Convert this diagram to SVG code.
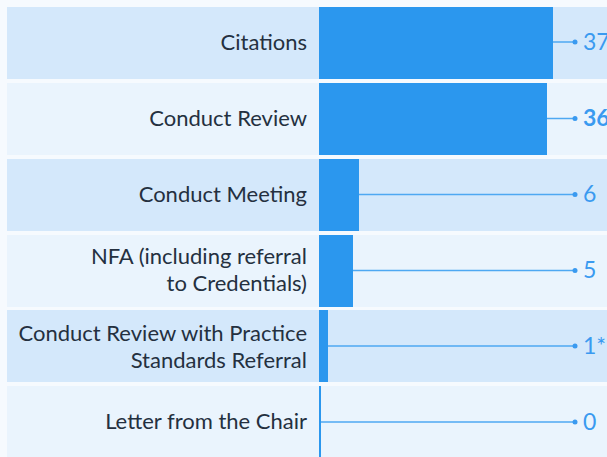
<svg xmlns="http://www.w3.org/2000/svg" width="607" height="457" viewBox="0 0 607 457">
<style>
.bg{fill:#f6fafe}
.odd{fill:#d4e8fb}
.even{fill:#eaf4fd}
.bar{fill:#2b97ee}
.lbl{font-family:Lato,"Noto Sans",sans-serif;font-size:22px;fill:#243040;text-anchor:end}
.val{font-family:Lato,"Noto Sans",sans-serif;font-size:23px;fill:#3a9af0}
.ln{stroke:#4ea8f2;stroke-width:1.5;fill:none}
.dot{fill:#3a9af0}
</style>
<rect class="bg" x="0" y="0" width="607" height="457"/>
<g id="row1">
<rect class="odd" x="7" y="7" width="600" height="72"/>
<rect class="bar" x="319" y="7" width="234" height="72"/>
<text class="lbl" x="307" y="50">Citations</text>
</g>
<g id="row2">
<rect class="even" x="7" y="83" width="600" height="72"/>
<rect class="bar" x="319" y="83" width="228" height="72"/>
<text class="lbl" x="307" y="126">Conduct Review</text>
</g>
<g id="row3">
<rect class="odd" x="7" y="159" width="600" height="72"/>
<rect class="bar" x="319" y="159" width="40" height="72"/>
<text class="lbl" x="307" y="202">Conduct Meeting</text>
</g>
<g id="row4">
<rect class="even" x="7" y="235" width="600" height="72"/>
<rect class="bar" x="319" y="235" width="34" height="72"/>
<text class="lbl" x="307" y="264">NFA (including referral</text>
<text class="lbl" x="307" y="291">to Credentials)</text>
</g>
<g id="row5">
<rect class="odd" x="7" y="310" width="600" height="72"/>
<rect class="bar" x="319" y="310" width="9" height="72"/>
<text class="lbl" x="307" y="341">Conduct Review with Practice</text>
<text class="lbl" x="307" y="368">Standards Referral</text>
</g>
<g id="row6">
<rect class="even" x="7" y="386" width="600" height="71"/>
<rect class="bar" x="319" y="386" width="2" height="71"/>
<text class="lbl" x="307" y="429">Letter from the Chair</text>
</g>
<g id="connectors">
<line class="ln" x1="553" y1="42" x2="575" y2="42"/>
<circle class="dot" cx="575" cy="42" r="2.5"/>
<line class="ln" x1="547" y1="118.5" x2="575" y2="118.5"/>
<circle class="dot" cx="575" cy="118.5" r="2.5"/>
<line class="ln" x1="359" y1="194.5" x2="575" y2="194.5"/>
<circle class="dot" cx="575" cy="194.5" r="2.5"/>
<line class="ln" x1="353" y1="270.5" x2="575" y2="270.5"/>
<circle class="dot" cx="575" cy="270.5" r="2.5"/>
<line class="ln" x1="328" y1="346" x2="575" y2="346"/>
<circle class="dot" cx="575" cy="346" r="2.5"/>
<line class="ln" x1="321" y1="422" x2="575" y2="422"/>
<circle class="dot" cx="575" cy="422" r="2.5"/>
</g>
<g id="values">
<text class="val" x="583" y="50">37</text>
<text class="val" x="583" y="126" font-weight="bold">36</text>
<text class="val" x="583" y="202">6</text>
<text class="val" x="583" y="278">5</text>
<text class="val" x="583" y="354">1*</text>
<text class="val" x="583" y="430">0</text>
</g>
</svg>
